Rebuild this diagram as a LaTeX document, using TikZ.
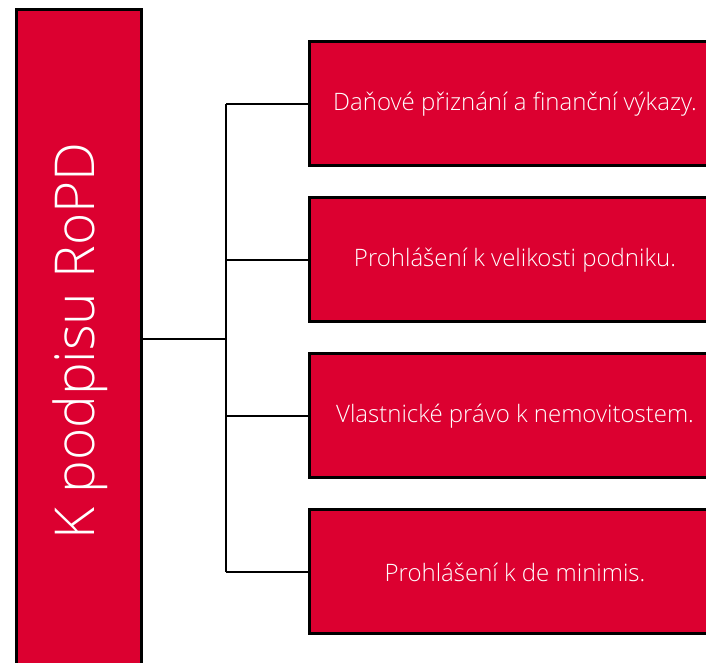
\documentclass[tikz,border=0pt]{standalone}
\usepackage{fontspec}
\setmainfont{Open Sans}[UprightFont=* Light]
\definecolor{boxred}{RGB}{220,0,48}
\begin{document}
\begin{tikzpicture}[x=1pt,y=1pt,
  redbox/.style={draw=black,line width=3pt,fill=boxred},
  conn/.style={draw=black,line width=2.6pt},
  itemtext/.style={text=white,font=\fontsize{24}{28}\selectfont,anchor=center}]
\useasboundingbox (0,0) rectangle (706,663);
\begin{scope}
\clip (0,0) rectangle (706,663);
% left box
\draw[redbox] (16,-20) rectangle (141,653);
\node[text=white,rotate=90,font=\fontsize{55}{62}\selectfont] (main) at (80,322) {K podpisu RoPD};
\coordinate (mainR) at (141,324);
% right boxes
\foreach \i/\yc/\t in {1/559/{Daňové přiznání a finanční výkazy.},2/403/{Prohlášení k velikosti podniku.},3/247/{Vlastnické právo k nemovitostem.},4/91/{Prohlášení k de minimis.}}{
  \draw[redbox] (309,\yc-62) rectangle (722,\yc+62);
  \coordinate (b\i) at (309,\yc);
  \node[itemtext] (t\i) at (515,\yc) {\t};
}
\coordinate (junc) at (226,324);
\draw[conn] (mainR) -- (junc);
\draw[conn] (226,559) -- (226,91);
\foreach \i in {1,2,3,4}{
  \draw[conn] (b\i -| junc) -- (b\i);
}
\end{scope}
\end{tikzpicture}
\end{document}
